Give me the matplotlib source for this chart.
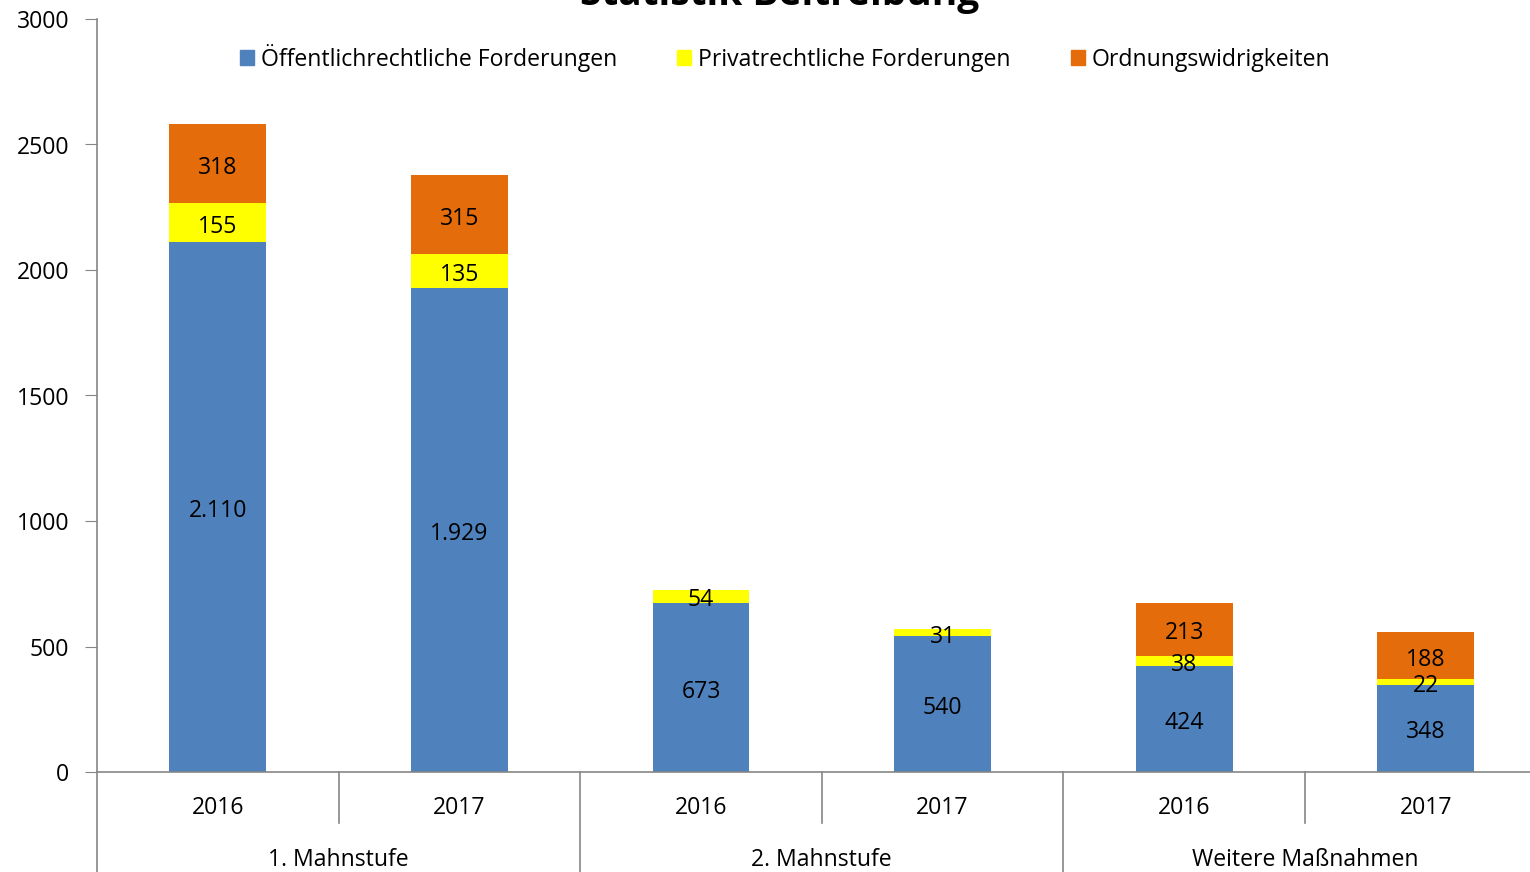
import numpy as np
import matplotlib.pyplot as plt
from matplotlib.patches import Patch

plt.rcParams['font.family'] = ['Open Sans', 'DejaVu Sans']

years = ['2016', '2017', '2016', '2017', '2016', '2017']
groups = ['1. Mahnstufe', '2. Mahnstufe', 'Weitere Maßnahmen']
oeffentlich = [2110, 1929, 673, 540, 424, 348]
privat = [155, 135, 54, 31, 38, 22]
ordnung = [318, 315, 0, 0, 213, 188]
series_names = ['Öffentlichrechtliche Forderungen', 'Privatrechtliche Forderungen',
                'Ordnungswidrigkeiten']
colors = ['#4F81BD', '#FFFF00', '#E46C0A']
FS = 16.6


def fmt(v):
    return f'{v:,}'.replace(',', '.')


fig = plt.figure(figsize=(15.3, 8.72), dpi=100)
ax = fig.add_axes([97 / 1530, 100 / 872, 1449.6 / 1530, 753 / 872])

x = np.arange(len(years))
w = 0.40
bottom = np.zeros(len(years))
for vals, c in zip([oeffentlich, privat, ordnung], colors):
    vals = np.array(vals)
    ax.bar(x, vals, w, bottom=bottom, color=c, zorder=2)
    for xi, b, v in zip(x, bottom, vals):
        if v > 0:
            ax.annotate(fmt(int(v)), (xi, b + v / 2), xytext=(0, -3),
                        textcoords='offset points', ha='center', va='center',
                        fontsize=FS, color='black', zorder=3)
    bottom += vals

ax.set_xlim(-0.5, 5.5)
ax.set_ylim(0, 3000)
ax.set_yticks(range(0, 3001, 500))
ax.tick_params(axis='y', labelsize=FS, length=9, color='#868686', pad=11)
ax.set_xticks([])
for s in ['top', 'right']:
    ax.spines[s].set_visible(False)
for s in ['left', 'bottom']:
    ax.spines[s].set_color('#868686')
    ax.spines[s].set_linewidth(1.2)

# category axis separators and labels
trans = ax.get_xaxis_transform()
for b in [0.5, 2.5, 4.5]:
    ax.plot([b, b], [0, -51 / 753], color='#868686', lw=1.2, transform=trans, clip_on=False)
for b in [-0.5, 1.5, 3.5, 5.5]:
    ax.plot([b, b], [0, -101 / 753], color='#868686', lw=1.2, transform=trans, clip_on=False)
for xi, yr in zip(x, years):
    ax.text(xi, -36 / 753, yr, ha='center', va='center', fontsize=FS, transform=trans)
for i, g in enumerate(groups):
    ax.text(2 * i + 0.5, -88 / 753, g, ha='center', va='center', fontsize=FS, transform=trans)

handles = [Patch(color=c, label=n) for c, n in zip(colors, series_names)]
ax.legend(handles=handles, loc='center', bbox_to_anchor=(688 / 1449.6, (772 - 58) / 753),
          ncol=3, frameon=False, fontsize=FS, handlelength=0.62, handleheight=0.62,
          handletextpad=0.3, columnspacing=2.6)

fig.text(780 / 1530, 1 - 5 / 872, 'Statistik Beitreibung', ha='center', va='baseline',
         fontsize=28, fontweight='bold')

fig.savefig('out.png', dpi=100)
